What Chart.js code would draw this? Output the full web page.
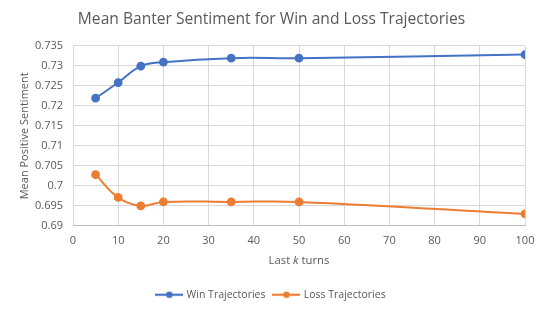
<!DOCTYPE html>
<html><head><meta charset="utf-8">
<script src="https://cdn.jsdelivr.net/npm/chart.js@4/dist/chart.umd.min.js"></script>
<style>html,body{margin:0;padding:0;background:#fff}canvas{display:block}</style>
</head><body>
<canvas id="c" width="545" height="312"></canvas>
<script>
const kValues = [5, 10, 15, 20, 35, 50, 100];
const winSentiment = [0.7219, 0.7258, 0.7299, 0.7309, 0.7319, 0.7319, 0.7328];
const lossSentiment = [0.7028, 0.6971, 0.6950, 0.6960, 0.6960, 0.6960, 0.6930];
const seriesNames = ['Win Trajectories', 'Loss Trajectories'];
const chartTitle = 'Mean Banter Sentiment for Win and Loss Trajectories';
const yTitle = 'Mean Positive Sentiment';

const FONT = '"Open Sans", sans-serif';
const TXT = '#595959';
const colors = ['#4472C4', '#ED7D31'];

function legendIcon(color) {
  const c = document.createElement('canvas');
  c.width = 28; c.height = 10;
  const g = c.getContext('2d');
  g.strokeStyle = color; g.lineWidth = 2.2;
  g.beginPath(); g.moveTo(0, 5); g.lineTo(28, 5); g.stroke();
  g.fillStyle = color; g.beginPath(); g.arc(14, 5, 3.3, 0, Math.PI * 2); g.fill();
  return c;
}

const xTitlePlugin = {
  id: 'xTitle',
  afterDraw(chart) {
    const ctx = chart.ctx;
    const area = chart.chartArea;
    const parts = [['Last ', 'normal'], ['k', 'italic'], [' turns', 'normal']];
    ctx.save();
    ctx.fillStyle = TXT;
    ctx.textBaseline = 'middle';
    let total = 0;
    const sz = '11.3px ';
    parts.forEach(p => { ctx.font = p[1] + ' ' + sz + FONT; total += ctx.measureText(p[0]).width; });
    let x = (area.left + area.right) / 2 - total / 2;
    parts.forEach(p => { ctx.font = p[1] + ' ' + sz + FONT; ctx.fillText(p[0], x, 261); x += ctx.measureText(p[0]).width; });
    ctx.restore();
  }
};

const mk = (arr) => kValues.map((k, i) => ({ x: k, y: arr[i] }));

new Chart(document.getElementById('c'), {
  type: 'scatter',
  data: {
    datasets: [
      { label: seriesNames[0], data: mk(winSentiment), showLine: true, tension: 0.4,
        borderColor: colors[0], backgroundColor: colors[0], borderWidth: 2,
        pointRadius: 3.4, pointHoverRadius: 3.4, pointStyle: 'circle' },
      { label: seriesNames[1], data: mk(lossSentiment), showLine: true, tension: 0.4,
        borderColor: colors[1], backgroundColor: colors[1], borderWidth: 2,
        pointRadius: 3.4, pointHoverRadius: 3.4, pointStyle: 'circle' }
    ]
  },
  options: {
    responsive: false, animation: false,
    layout: { padding: { left: 18, right: 20, top: 4, bottom: 2 } },
    plugins: {
      tooltip: { enabled: false },
      title: { display: true, text: chartTitle, color: TXT,
        font: { family: FONT, size: 15.6, weight: 'normal' }, padding: { top: 6, bottom: 17 } },
      legend: { position: 'bottom',
        labels: { color: TXT, font: { family: FONT, size: 10.5 }, usePointStyle: true,
          pointStyleWidth: 24, boxHeight: 10, padding: 9,
          generateLabels(chart) {
            return chart.data.datasets.map((d, i) => ({
              text: d.label, fillStyle: d.borderColor, strokeStyle: d.borderColor,
              pointStyle: legendIcon(d.borderColor), datasetIndex: i, fontColor: TXT, lineWidth: 0
            }));
          } } }
    },
    scales: {
      x: { type: 'linear', min: 0, max: 100,
        ticks: { stepSize: 10, color: TXT, font: { family: FONT, size: 11 }, padding: 8 },
        grid: { color: '#D9D9D9', drawTicks: false },
        border: { color: '#BFBFBF' },
        title: { display: true, text: ' ', font: { family: FONT, size: 12 }, padding: { top: 6, bottom: 5 } } },
      y: { min: 0.69, max: 0.735,
        afterFit(scale) { scale.width = 55; },
        ticks: { stepSize: 0.005, color: TXT, font: { family: FONT, size: 11 }, padding: 10,
          callback: v => String(+v.toFixed(3)) },
        grid: { color: '#D9D9D9', drawTicks: false },
        border: { display: false },
        title: { display: true, text: yTitle, color: TXT, font: { family: FONT, size: 11 }, padding: { top: 0, bottom: 4 } } }
    }
  },
  plugins: [xTitlePlugin]
});
</script>
</body></html>
